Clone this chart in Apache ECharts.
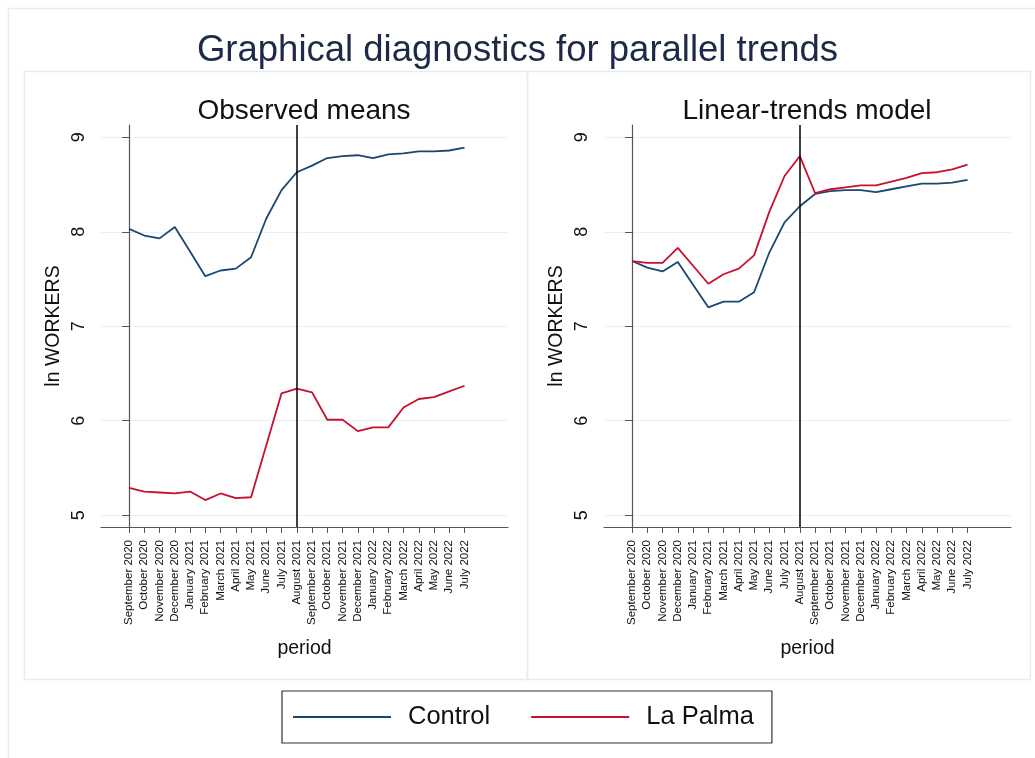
<!DOCTYPE html>
<html>
<head>
<meta charset="utf-8">
<title>Graphical diagnostics for parallel trends</title>
<script src="https://cdn.jsdelivr.net/npm/echarts@6/dist/echarts.min.js"></script>
<style>
    html, body { margin: 0; padding: 0; background: #fff; }
    #main { width: 1035px; height: 758px; }
</style>
</head>
<body>
<div id="main"></div>
<script>
// periods on the x axis
var months = ['September 2020', 'October 2020', 'November 2020', 'December 2020',
    'January 2021', 'February 2021', 'March 2021', 'April 2021', 'May 2021', 'June 2021',
    'July 2021', 'August 2021', 'September 2021', 'October 2021', 'November 2021',
    'December 2021', 'January 2022', 'February 2022', 'March 2022', 'April 2022',
    'May 2022', 'June 2022', 'July 2022'];
var treatMonth = 11; // August 2021
var yTicks = [5, 6, 7, 8, 9];

// Observed means
var obsControl = [8.03, 7.96, 7.93, 8.05, 7.79, 7.53, 7.59, 7.61, 7.73, 8.14, 8.44, 8.63,
    8.70, 8.78, 8.80, 8.81, 8.78, 8.82, 8.83, 8.85, 8.85, 8.86, 8.89];
var obsLaPalma = [5.29, 5.25, 5.24, 5.23, 5.25, 5.16, 5.23, 5.18, 5.19, 5.74, 6.29, 6.34,
    6.30, 6.01, 6.01, 5.89, 5.93, 5.93, 6.14, 6.23, 6.25, 6.31, 6.37];

// Linear-trends model
var fitControl = [7.69, 7.62, 7.58, 7.68, 7.44, 7.20, 7.26, 7.26, 7.36, 7.78, 8.10, 8.27,
    8.40, 8.43, 8.44, 8.44, 8.42, 8.45, 8.48, 8.51, 8.51, 8.52, 8.55];
var fitLaPalma = [7.69, 7.67, 7.67, 7.83, 7.64, 7.45, 7.55, 7.61, 7.75, 8.21, 8.59, 8.80,
    8.41, 8.45, 8.47, 8.49, 8.49, 8.53, 8.57, 8.62, 8.63, 8.66, 8.71];

var FONT = '"Liberation Sans", Arial, sans-serif';
var BLUE = '#1a476f';
var RED = '#c8102e';
var PANEL = '#e4edf0';

var idx = months.map(function (m, i) { return i; });
function pairs(arr) {
    return arr.map(function (v, i) { return [i, v]; });
}

function xAxisOf(gi) {
    return {
        type: 'value',
        gridIndex: gi,
        min: -1.84,
        max: 24.85,
        name: 'period',
        nameLocation: 'middle',
        nameGap: 112,
        nameTextStyle: { fontFamily: FONT, fontSize: 19.5, color: '#111' },
        axisLine: { lineStyle: { color: '#555', width: 1.2 } },
        axisTick: { customValues: idx, length: 6, lineStyle: { color: '#555' } },
        axisLabel: {
            customValues: idx,
            rotate: 90,
            margin: 13,
            fontFamily: FONT,
            fontSize: 11.5,
            color: '#111',
            formatter: function (v) { return months[v]; }
        },
        splitLine: { show: false }
    };
}

function yAxisOf(gi) {
    return {
        type: 'value',
        gridIndex: gi,
        min: 4.875,
        max: 9.13,
        name: 'ln WORKERS',
        nameLocation: 'middle',
        nameGap: 37,
        nameRotate: 90,
        nameTextStyle: { fontFamily: FONT, fontSize: 19.5, color: '#111' },
        axisLine: { show: true, lineStyle: { color: '#555', width: 1.2 } },
        axisTick: { show: true, customValues: yTicks, length: 7, lineStyle: { color: '#555' } },
        axisLabel: {
            customValues: yTicks,
            rotate: 90,
            margin: 13,
            fontFamily: FONT,
            fontSize: 18,
            color: '#111'
        },
        splitLine: { show: true, lineStyle: { color: '#e8f0f2', width: 1.2 } }
    };
}

function lineOf(name, arr, gi, color, withMark) {
    var s = {
        name: name,
        type: 'line',
        xAxisIndex: gi,
        yAxisIndex: gi,
        data: pairs(arr),
        showSymbol: false,
        symbol: 'none',
        lineStyle: { color: color, width: 1.8 },
        itemStyle: { color: color },
        animation: false,
        z: 3
    };
    if (withMark) {
        // vertical line at treatment month
        s.markLine = {
            silent: true,
            symbol: 'none',
            label: { show: false },
            lineStyle: { color: '#000', width: 1.5, type: 'solid' },
            data: [{ xAxis: treatMonth }]
        };
    }
    return s;
}

var chart = echarts.init(document.getElementById('main'));
var option = {
    backgroundColor: '#fff',
    animation: false,
    title: [
        {
            text: 'Graphical diagnostics for parallel trends',
            left: 'center',
            top: 27,
            textStyle: { fontFamily: FONT, fontSize: 36.5, fontWeight: 'normal', color: '#1c2a48' }
        },
        {
            text: 'Observed means',
            left: 299,
            top: 92,
            textAlign: 'center',
            textStyle: { fontFamily: FONT, fontSize: 28, fontWeight: 'normal', color: '#111' }
        },
        {
            text: 'Linear-trends model',
            left: 802,
            top: 92,
            textAlign: 'center',
            textStyle: { fontFamily: FONT, fontSize: 28, fontWeight: 'normal', color: '#111' }
        }
    ],
    graphic: [
        { type: 'rect', shape: { x: 8.5, y: 8.5, width: 1040, height: 760 }, style: { fill: null, stroke: PANEL, lineWidth: 1.5 }, z: -10 },
        { type: 'rect', shape: { x: 24.5, y: 71.5, width: 503, height: 608 }, style: { fill: null, stroke: PANEL, lineWidth: 1.5 }, z: -10 },
        { type: 'rect', shape: { x: 527.5, y: 71.5, width: 503, height: 608 }, style: { fill: null, stroke: PANEL, lineWidth: 1.5 }, z: -10 }
    ],
    legend: {
        data: ['Control', 'La Palma'],
        left: 282,
        top: 691,
        icon: 'rect',
        itemWidth: 98,
        itemHeight: 2,
        itemGap: 41,
        padding: [13, 18, 13, 11],
        borderColor: '#333',
        borderWidth: 1.2,
        backgroundColor: '#fff',
        textStyle: { fontFamily: FONT, fontSize: 25.5, color: '#111', padding: [0, 0, 0, 12] }
    },
    grid: [
        { left: 101, top: 125, width: 407, height: 402 },
        { left: 604, top: 125, width: 407, height: 402 }
    ],
    xAxis: [xAxisOf(0), xAxisOf(1)],
    yAxis: [yAxisOf(0), yAxisOf(1)],
    series: [
        lineOf('Control', obsControl, 0, BLUE, true),
        lineOf('La Palma', obsLaPalma, 0, RED, false),
        lineOf('Control', fitControl, 1, BLUE, true),
        lineOf('La Palma', fitLaPalma, 1, RED, false)
    ]
};
chart.setOption(option);
</script>
</body>
</html>
